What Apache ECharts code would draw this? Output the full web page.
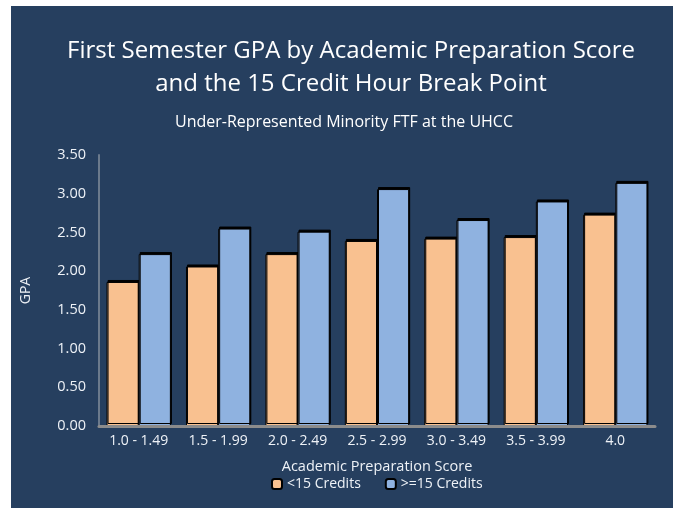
<!DOCTYPE html>
<html><head><meta charset="utf-8">
<script src="https://cdn.jsdelivr.net/npm/echarts@6/dist/echarts.min.js"></script>
<style>html,body{margin:0;padding:0;background:#fff}#c{width:673px;height:508px}</style>
</head><body><div id="c"></div>
<script>
const categories = ['1.0 - 1.49','1.5 - 1.99','2.0 - 2.49','2.5 - 2.99','3.0 - 3.49','3.5 - 3.99','4.0'];
const under15 = [1.86, 2.06, 2.22, 2.39, 2.42, 2.44, 2.73];
const over15 = [2.22, 2.55, 2.51, 3.06, 2.66, 2.90, 3.14];
const yTicks = ['0.00','0.50','1.00','1.50','2.00','2.50','3.00','3.50'];

const chart = echarts.init(document.getElementById('c'), null, {renderer:'canvas'});
const font = 'Open Sans';
const txt = '#eef2f7';
const barStyle = (c) => ({color:c, borderColor:'#000', borderWidth:1, shadowColor:'#000', shadowOffsetY:-2, shadowOffsetX:1, shadowBlur:0});
chart.setOption({
  backgroundColor:'#ffffff',
  animation:false,
  graphic:[{type:'rect', z:-10, shape:{x:11,y:6,width:662,height:502}, style:{fill:'#263f5f'}}],
  title:[
    {text:'First Semester GPA by Academic Preparation Score\nand the 15 Credit Hour Break Point', left:346, textAlign:'center', top:30,
     textStyle:{color:'#ffffff', fontFamily:font, fontWeight:'normal', fontSize:24, lineHeight:33}},
    {text:'Under-Represented Minority FTF at the UHCC', left:339, textAlign:'center', top:109,
     textStyle:{color:'#ffffff', fontFamily:font, fontWeight:'normal', fontSize:16}}
  ],
  legend:{bottom:12, left:266, itemWidth:10, itemHeight:10, itemGap:24,
    textStyle:{color:txt, fontFamily:font, fontSize:14},
    data:[{name:'<15 Credits', itemStyle:{borderColor:'#000',borderWidth:2}},{name:'>=15 Credits', itemStyle:{borderColor:'#000',borderWidth:2}}]},
  grid:{left:99, right:18, top:155, bottom:82},
  xAxis:{type:'category', data:categories, name:'Academic Preparation Score', nameLocation:'middle', nameGap:33, z:5,
    nameTextStyle:{color:txt, fontFamily:font, fontSize:14.5},
    axisLine:{lineStyle:{color:'#8c8c8c', width:3}}, axisTick:{show:false},
    axisLabel:{color:txt, fontFamily:font, fontSize:14, margin:8, interval:0, hideOverlap:false}},
  yAxis:{type:'value', min:0, max:3.5, interval:0.5, name:'GPA', nameLocation:'middle', nameGap:66, nameRotate:90,
    nameTextStyle:{color:txt, fontFamily:font, fontSize:14},
    axisLine:{show:true, lineStyle:{color:'#6b7a8c', width:2}}, axisTick:{show:false}, splitLine:{show:false},
    axisLabel:{color:txt, fontFamily:font, fontSize:14.5, margin:13, formatter:(v)=>yTicks[Math.round(v/0.5)]}},
  series:[
    {name:'<15 Credits', type:'bar', data:under15, barGap:'0%', barCategoryGap:'19%', itemStyle:barStyle('#f9c190')},
    {name:'>=15 Credits', type:'bar', data:over15, barGap:'0%', barCategoryGap:'19%', itemStyle:barStyle('#8fb2e0')}
  ]
});
</script></body></html>
